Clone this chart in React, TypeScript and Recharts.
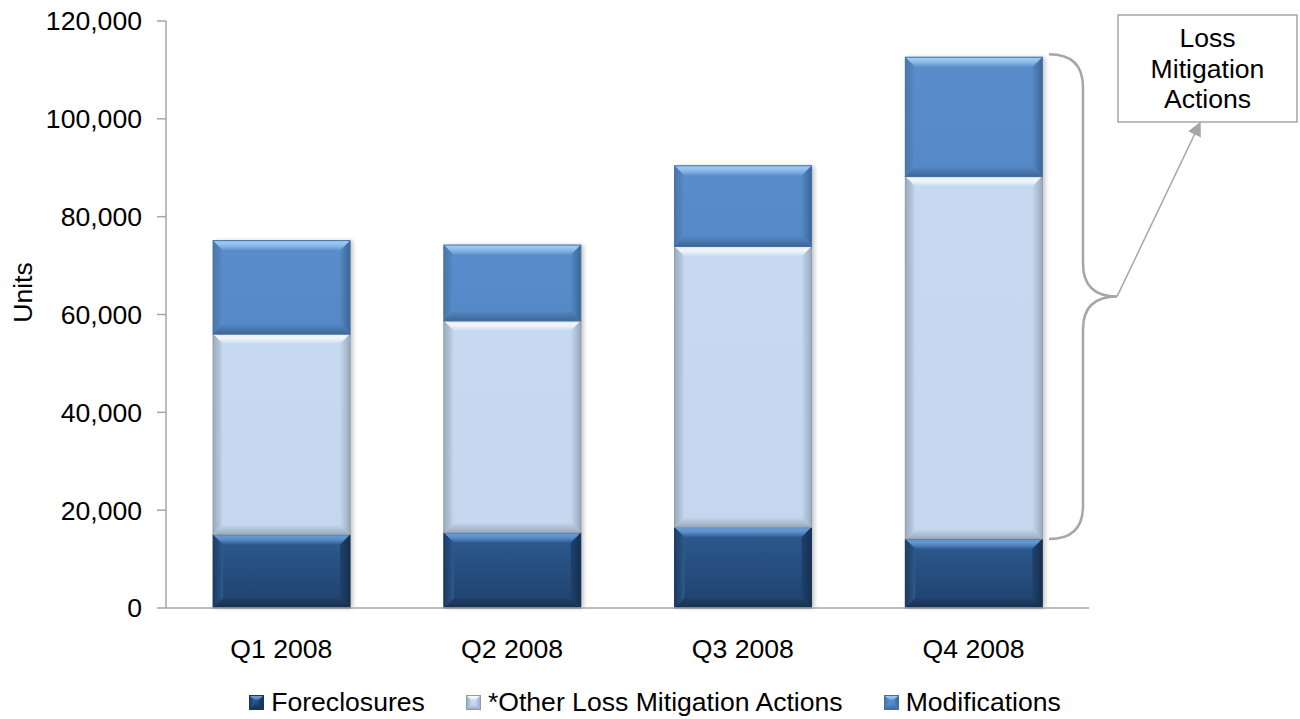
import React from 'react';
import { BarChart, Bar, XAxis, YAxis, Legend, ReferenceArea } from 'recharts';

const quarters = ['Q1 2008', 'Q2 2008', 'Q3 2008', 'Q4 2008'];
const foreclosures = [15000, 15400, 16500, 14100];
const otherActions = [41000, 43300, 57400, 74100];
const modifications = [19100, 15500, 16500, 24400];
const yTicks = [0, 20000, 40000, 60000, 80000, 100000, 120000];
const seriesNames = ['Foreclosures', '*Other Loss Mitigation Actions', 'Modifications'];
const calloutLines = ['Loss', 'Mitigation', 'Actions'];

const data = quarters.map((q, i) => ({
  quarter: q,
  fore: foreclosures[i],
  other: otherActions[i],
  mods: modifications[i],
}));

const FONT = '"Liberation Sans", Arial, sans-serif';
const FONT_SIZE = 26.6;
const AXIS_GRAY = '#a6a6a6';

type Palette = { id: string; top: string; bottom: string; light: string; dark: string; edge: string };

const palettes: Record<string, Palette> = {
  fore: { id: 'fore', top: '#2d5b91', bottom: '#1f416c', light: '#70a5e4', dark: '#15304f', edge: '#1b3658' },
  other: { id: 'other', top: '#c6d9f0', bottom: '#c4d7ef', light: '#ffffff', dark: '#9aaabd', edge: '#8e9cae' },
  mods: { id: 'mods', top: '#5a8dcc', bottom: '#5488c7', light: '#a2cef7', dark: '#3d6696', edge: '#44709f' },
};

// bevelled block, like the office "bevel" bar effect
const Bevel = ({ x, y, w, h, p, b, shadow, tag }: any) => {
  if (!w || !h || h <= 0) return null;
  const k = Math.min(b, h / 2, w / 2);
  const id = `${p.id}-${tag}`;
  return (
    <g>
      <defs>
        <linearGradient id={`${id}-body`} x1="0" y1="0" x2="0" y2="1">
          <stop offset="0" stopColor={p.top} />
          <stop offset="1" stopColor={p.bottom} />
        </linearGradient>
        <linearGradient id={`${id}-t`} x1="0" y1="0" x2="0" y2="1">
          <stop offset="0" stopColor={p.light} />
          <stop offset="0.35" stopColor={p.light} stopOpacity={0.8} />
          <stop offset="1" stopColor={p.top} />
        </linearGradient>
        <linearGradient id={`${id}-b`} x1="0" y1="0" x2="0" y2="1">
          <stop offset="0" stopColor={p.bottom} />
          <stop offset="1" stopColor={p.dark} />
        </linearGradient>
        <linearGradient id={`${id}-r`} x1="0" y1="0" x2="1" y2="0">
          <stop offset="0" stopColor={p.bottom} />
          <stop offset="1" stopColor={p.dark} />
        </linearGradient>
        <linearGradient id={`${id}-l`} x1="1" y1="0" x2="0" y2="0">
          <stop offset="0" stopColor={p.top} />
          <stop offset="1" stopColor={p.edge} stopOpacity={0.7} />
        </linearGradient>
        <filter id="barShadow" x="-20%" y="-20%" width="140%" height="140%">
          <feGaussianBlur stdDeviation="2" />
        </filter>
      </defs>
      {shadow && <rect x={x + 3} y={y} width={w} height={h} fill="#000" opacity={0.22} filter="url(#barShadow)" />}
      <rect x={x} y={y} width={w} height={h} fill={`url(#${id}-body)`} />
      <polygon points={`${x},${y} ${x + w},${y} ${x + w - k},${y + k} ${x + k},${y + k}`} fill={`url(#${id}-t)`} />
      <polygon points={`${x},${y + h} ${x + w},${y + h} ${x + w - k},${y + h - k} ${x + k},${y + h - k}`} fill={`url(#${id}-b)`} />
      <polygon points={`${x + w},${y} ${x + w},${y + h} ${x + w - k},${y + h - k} ${x + w - k},${y + k}`} fill={`url(#${id}-r)`} />
      <polygon points={`${x},${y} ${x},${y + h} ${x + k},${y + h - k} ${x + k},${y + k}`} fill={`url(#${id}-l)`} />
      <rect x={x} y={y} width={w} height={h} fill="none" stroke={p.edge} strokeWidth={1} />
    </g>
  );
};

const makeShape = (p: Palette) => (props: any) => (
  <Bevel x={props.x} y={props.y} w={props.width} h={props.height} p={p} b={10} shadow tag="bar" />
);

const UnitsLabel = (props: any) => {
  const vb = props.viewBox || { x: 0, y: 21, width: 166, height: 587 };
  const cx = vb.x + 22.5;
  const cy = vb.y + vb.height / 2 - 22;
  return (
    <text
      x={cx}
      y={cy}
      transform={`rotate(-90 ${cx} ${cy})`}
      textAnchor="middle"
      dominantBaseline="central"
      fontFamily={FONT}
      fontSize={FONT_SIZE}
      fill="#000"
    >
      Units
    </text>
  );
};

const legendPalettes = [palettes.fore, palettes.other, palettes.mods];

const renderLegend = () => (
  <div
    style={{
      display: 'flex',
      justifyContent: 'center',
      alignItems: 'center',
      height: 34,
      fontFamily: FONT,
      fontSize: FONT_SIZE,
      color: '#000',
      paddingLeft: 10,
    }}
  >
    {seriesNames.map((name, i) => (
      <div key={name} style={{ display: 'flex', alignItems: 'center', marginLeft: i ? 41 : 0 }}>
        <svg width={15} height={15} style={{ marginRight: 7 }}>
          <Bevel x={0.5} y={0.5} w={14} h={14} p={legendPalettes[i]} b={5} tag={`lg${i}`} />
        </svg>
        <span style={{ whiteSpace: 'nowrap' }}>{name}</span>
      </div>
    ))}
  </div>
);

// brace next to the last bar, pointing at the callout box
const Callout = (props: any) => {
  const { x, y, width, height } = props;
  if (x == null || y == null) return null;
  const xr = x + width;
  const yT = y - 3;
  const yB = y + height;
  const ym = (yT + yB) / 2;
  const x0 = xr - 40;
  const xv = xr - 6;
  const xp = xr + 28;
  const r = 33;
  const boxX = xr + 29;
  const boxW = 179;
  const boxY = 15;
  const boxH = 107;
  const d = `M${x0},${yT} Q${xv},${yT} ${xv},${yT + r} L${xv},${ym - r} Q${xv},${ym} ${xp},${ym} Q${xv},${ym} ${xv},${ym + r} L${xv},${yB - r} Q${xv},${yB} ${x0},${yB}`;
  return (
    <g>
      <defs>
        <marker id="calloutArrow" viewBox="0 0 10 10" refX="9" refY="5" markerWidth="16" markerHeight="14" markerUnits="userSpaceOnUse" orient="auto">
          <path d="M0,0 L10,5 L0,10 z" fill={AXIS_GRAY} />
        </marker>
      </defs>
      <path d={d} fill="none" stroke={AXIS_GRAY} strokeWidth={2.5} />
      <line x1={xp} y1={ym} x2={boxX + 82} y2={boxY + boxH + 1} stroke={AXIS_GRAY} strokeWidth={1.5} markerEnd="url(#calloutArrow)" />
      <rect x={boxX} y={boxY} width={boxW} height={boxH} fill="#fff" stroke={AXIS_GRAY} strokeWidth={1.5} />
      {calloutLines.map((line, i) => (
        <text
          key={line}
          x={boxX + boxW / 2}
          y={boxY + 23 + i * 30.5}
          textAnchor="middle"
          dominantBaseline="central"
          fontFamily={FONT}
          fontSize={FONT_SIZE}
          fill="#000"
        >
          {line}
        </text>
      ))}
    </g>
  );
};

export default function App() {
  const last = quarters.length - 1;
  const lastTotal = foreclosures[last] + otherActions[last] + modifications[last];

  return (
    <div style={{ position: 'absolute', left: 0, top: 0, width: 1300, height: 719, background: '#fff' }}>
      <BarChart
        width={1300}
        height={719}
        data={data}
        margin={{ top: 21, right: 211, left: 0, bottom: 0 }}
        barCategoryGap="20.4%"
      >
        <XAxis
          dataKey="quarter"
          axisLine={{ stroke: AXIS_GRAY, strokeWidth: 1.5 }}
          tickLine={false}
          tickSize={0}
          tickMargin={31}
          height={77}
          tick={{ fill: '#000', fontSize: FONT_SIZE, fontFamily: FONT }}
        />
        <YAxis
          width={166}
          domain={[0, 120000]}
          ticks={yTicks}
          interval={0}
          axisLine={{ stroke: AXIS_GRAY, strokeWidth: 1.5 }}
          tickLine={{ stroke: AXIS_GRAY, strokeWidth: 1.5 }}
          tickSize={9}
          tickMargin={15}
          tick={{ fill: '#000', fontSize: FONT_SIZE, fontFamily: FONT }}
          tickFormatter={(v: number) => v.toLocaleString('en-US')}
          label={<UnitsLabel />}
        />
        <Legend
          verticalAlign="bottom"
          content={renderLegend}
          wrapperStyle={{ left: 0, width: 1300, bottom: 0 }}
        />
        <Bar dataKey="fore" name={seriesNames[0]} stackId="a" fill="#2d5b91" shape={makeShape(palettes.fore)} isAnimationActive={false} />
        <Bar dataKey="other" name={seriesNames[1]} stackId="a" fill="#c6d9f0" shape={makeShape(palettes.other)} isAnimationActive={false} />
        <Bar dataKey="mods" name={seriesNames[2]} stackId="a" fill="#5a8dcc" shape={makeShape(palettes.mods)} isAnimationActive={false} />
        <ReferenceArea y1={foreclosures[last]} y2={lastTotal} shape={<Callout />} />
      </BarChart>
    </div>
  );
}
